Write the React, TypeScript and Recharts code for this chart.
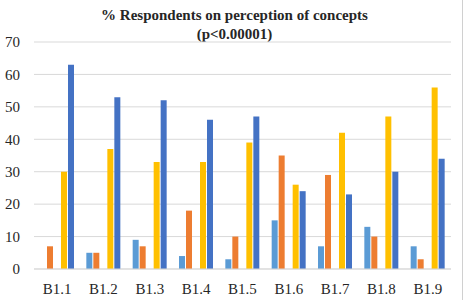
import React from "react";
import { BarChart, Bar, XAxis, YAxis, CartesianGrid } from "recharts";

const categories = ["B1.1", "B1.2", "B1.3", "B1.4", "B1.5", "B1.6", "B1.7", "B1.8", "B1.9"];
const seriesA = [0, 5, 9, 4, 3, 15, 7, 13, 7];
const seriesB = [7, 5, 7, 18, 10, 35, 29, 10, 3];
const seriesGap: (number | null)[] = [null, null, null, null, null, null, null, null, null];
const seriesC = [30, 37, 33, 33, 39, 26, 42, 47, 56];
const seriesD = [63, 53, 52, 46, 47, 24, 23, 30, 34];
const yTicks = [0, 10, 20, 30, 40, 50, 60, 70];

const data = categories.map((name, i) => ({
  name,
  a: seriesA[i],
  b: seriesB[i],
  gap: seriesGap[i],
  c: seriesC[i],
  d: seriesD[i],
}));

const font = "'Liberation Serif', 'DejaVu Serif', serif";

export default function App() {
  return (
    <div style={{ position: "absolute", left: 0, top: 0, width: 465, height: 300, background: "#fff", fontFamily: font }}>
      <div
        style={{
          position: "absolute",
          left: 0,
          width: 465,
          top: 6,
          textAlign: "center",
          fontWeight: "bold",
          fontSize: 15,
          lineHeight: "19px",
          color: "#262626",
          paddingLeft: 2,
          fontFamily: font,
        }}
      >
        % Respondents on perception of concepts
        <br />
        (p&lt;0.00001)
      </div>
      <div style={{ position: "absolute", left: 462, top: 0, width: 1, height: 300, background: "#d0d0d0" }} />
      <BarChart
        width={465}
        height={300}
        data={data}
        margin={{ top: 42, right: 14, left: 0, bottom: 0 }}
        barSize={6}
        barGap={1}
        style={{ position: "absolute", left: 0, top: 0, fontFamily: font }}
      >
        <CartesianGrid vertical={false} stroke="#d9d9d9" strokeWidth={1} />
        <XAxis
          dataKey="name"
          height={31}
          tickLine={false}
          axisLine={{ stroke: "#d9d9d9" }}
          tick={{ fill: "#262626", fontSize: 15, fontFamily: font }}
          tickMargin={8}
          interval={0}
        />
        <YAxis
          width={34}
          domain={[0, 70]}
          ticks={yTicks}
          tickLine={false}
          axisLine={false}
          tick={{ fill: "#262626", fontSize: 15, fontFamily: font }}
          tickMargin={8}
          interval={0}
        />
        <Bar dataKey="a" fill="#5B9BD5" isAnimationActive={false} />
        <Bar dataKey="b" fill="#ED7D31" isAnimationActive={false} />
        <Bar dataKey="gap" fill="#A5A5A5" isAnimationActive={false} />
        <Bar dataKey="c" fill="#FFC000" isAnimationActive={false} />
        <Bar dataKey="d" fill="#4472C4" isAnimationActive={false} />
      </BarChart>
    </div>
  );
}
